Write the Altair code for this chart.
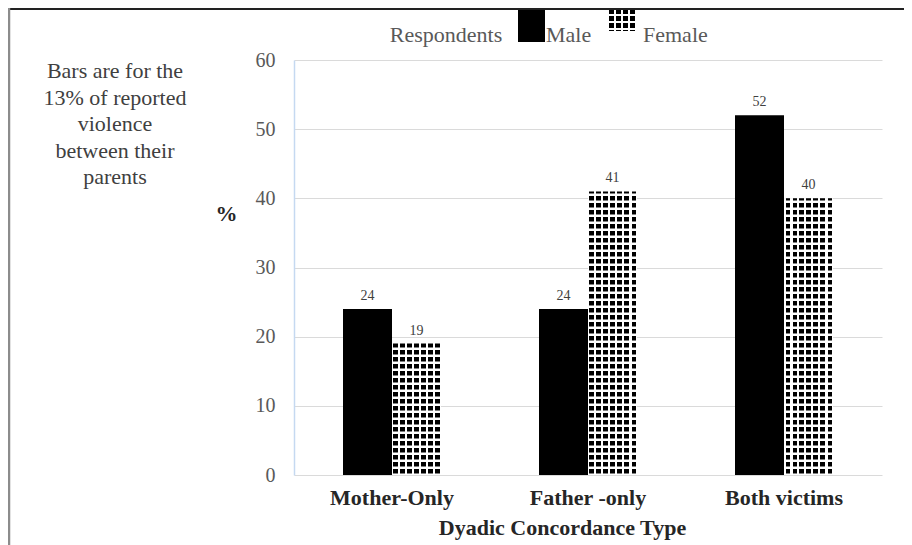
import altair as alt
import pandas as pd

categories = ["Mother-Only", "Father -only", "Both victims"]
sexes = ["Male", "Female"]
male = [24, 24, 52]
female = [19, 41, 40]
y_ticks = [0, 10, 20, 30, 40, 50, 60]
note_lines = ["Bars are for the", "13% of reported", "violence", "between their", "parents"]
legend_title = "Respondents"

SERIF = "Liberation Serif"
MSERIF = "'Liberation Serif', 'Times New Roman', serif"
W, H = 588, 415
YMAX = 60
PX = H / YMAX

rows = []
for c, m, f in zip(categories, male, female):
    rows.append({"cat": c, "sex": "Male", "value": m})
    rows.append({"cat": c, "sex": "Female", "value": f})
df = pd.DataFrame(rows)

# dotted pattern: dot rows with white gaps (pitch 7px)
PITCH, DLO, DHI = 7, 1.5, 6
stripes = []
for c, f in zip(categories, female):
    top = f * PX
    lo, hi, k = 0, DLO, 0
    while lo < top:
        stripes.append({"cat": c, "sex": "Female", "y0": lo / PX, "y1": min(hi, top) / PX})
        lo = k * PITCH + DHI
        hi = (k + 1) * PITCH + DLO
        k += 1
sdf = pd.DataFrame(stripes)


def col_gradient(w, on="black", off="white", horizontal=True):
    stops = [{"offset": 0, "color": off}]
    i = 0
    while i * PITCH + DLO < w:
        a = (i * PITCH + DLO) / w
        b = min(i * PITCH + DHI, w) / w
        stops += [{"offset": a, "color": off}, {"offset": a, "color": on},
                  {"offset": b, "color": on}, {"offset": b, "color": off}]
        i += 1
    stops.append({"offset": 1, "color": off})
    if horizontal:
        return {"gradient": "linear", "x1": 0, "y1": 0, "x2": 1, "y2": 0, "stops": stops}
    return {"gradient": "linear", "x1": 0, "y1": 0, "x2": 0, "y2": 1, "stops": stops}


xenc = alt.X(
    "cat:N", sort=categories,
    scale=alt.Scale(domain=categories, paddingInner=0.5, paddingOuter=0.25),
    axis=alt.Axis(
        title="Dyadic Concordance Type", labelAngle=0, labelFont=SERIF, labelFontSize=22,
        labelFontWeight="bold", labelColor="#262626", labelPadding=12, ticks=False, domain=False,
        titleFont=SERIF, titleFontSize=22, titleFontWeight="bold", titleColor="#262626",
        titleX=268, titleY=59, titleAlign="center", titleBaseline="alphabetic",
    ),
)
xoff = alt.XOffset("sex:N", scale=alt.Scale(domain=sexes, paddingInner=0, paddingOuter=0))
yaxis = alt.Axis(
    values=y_ticks, title="%", titleAngle=0, titleX=-68, titleY=153, titleAlign="center",
    titleBaseline="middle", titleFont=SERIF, titleFontSize=22, titleFontWeight="bold",
    titleColor="#262626", labelFont=SERIF, labelFontSize=20, labelColor="#595959",
    labelPadding=19, ticks=False, domainColor="#c5d9f1", domainWidth=1.5,
    grid=True, gridColor="#dadada", gridWidth=1,
)
yenc = alt.Y("value:Q", scale=alt.Scale(domain=[0, YMAX], nice=False), axis=yaxis, title="%")

base = alt.Chart(df)
male_bars = base.transform_filter(alt.datum.sex == "Male").mark_bar(color="black").encode(
    x=xenc, xOffset=xoff, y=yenc)
female_bars = base.transform_filter(alt.datum.sex == "Female").mark_bar(
    fill=col_gradient(49), stroke=None).encode(
    x=alt.X("cat:N", sort=categories, title="Dyadic Concordance Type"),
    xOffset=alt.XOffset("sex:N"), y=alt.Y("value:Q", title="%"))
stripe_layer = alt.Chart(sdf).mark_bar(color="white").encode(
    x=alt.X("cat:N", sort=categories, title="Dyadic Concordance Type"),
    xOffset=alt.XOffset("sex:N"),
    y=alt.Y("y0:Q", title="%"), y2="y1:Q")
labels = base.mark_text(font=MSERIF, fontSize=14, color="#404040", baseline="alphabetic", dy=-9).encode(
    x=alt.X("cat:N", sort=categories, title="Dyadic Concordance Type"),
    xOffset=alt.XOffset("sex:N"), y=alt.Y("value:Q", title="%"), text="value:Q")

one = alt.Data(values=[{"k": 1}])
note = alt.Chart(one).mark_text(
    font="Times New Roman", fontSize=22, color="#404040", align="center",
    baseline="alphabetic", lineHeight=26.6).encode(
    x=alt.value(-179), y=alt.value(18), text=alt.value(note_lines))

leg_title = alt.Chart(one).mark_text(
    font=MSERIF, fontSize=22, color="#595959", align="center",
    baseline="alphabetic").encode(x=alt.value(152), y=alt.value(-18), text=alt.value(legend_title))
leg_male_sw = alt.Chart(one).mark_rect(color="black").encode(
    x=alt.value(224), x2=alt.value(251), y=alt.value(-52), y2=alt.value(-18))
leg_male_tx = alt.Chart(one).mark_text(
    font=MSERIF, fontSize=22, color="#595959", align="left",
    baseline="alphabetic").encode(x=alt.value(252), y=alt.value(-18), text=alt.value("Male"))
leg_fem_sw = alt.Chart(one).mark_rect(fill=col_gradient(27)).encode(
    x=alt.value(314), x2=alt.value(341), y=alt.value(-52), y2=alt.value(-29))
leg_fem_rows = alt.Chart(one).mark_rect(
    fill=col_gradient(23, on="rgba(255,255,255,0)", off="white", horizontal=False)).encode(
    x=alt.value(314), x2=alt.value(341), y=alt.value(-52), y2=alt.value(-29))
leg_fem_tx = alt.Chart(one).mark_text(
    font=MSERIF, fontSize=22, color="#595959", align="left",
    baseline="alphabetic").encode(x=alt.value(349), y=alt.value(-18), text=alt.value("Female"))

frame_top = alt.Chart(one).mark_rule(color="#222222", strokeWidth=2).encode(
    x=alt.value(-285), x2=alt.value(640), y=alt.value(-51))
frame_left = alt.Chart(one).mark_rule(color="#8c8c8c", strokeWidth=2.5).encode(
    x=alt.value(-285), y=alt.value(-52), y2=alt.value(500))

chart = alt.layer(
    male_bars, female_bars, stripe_layer, labels, note,
    leg_title, leg_male_sw, leg_male_tx, leg_fem_sw, leg_fem_rows, leg_fem_tx,
    frame_top, frame_left,
).properties(
    width=W, height=H, autosize="none",
    padding={"left": 286, "top": 52, "right": 22, "bottom": 70},
    background="white",
).configure_view(stroke=None)

chart.save("out.html", embed_options={"renderer": "svg", "actions": False})
